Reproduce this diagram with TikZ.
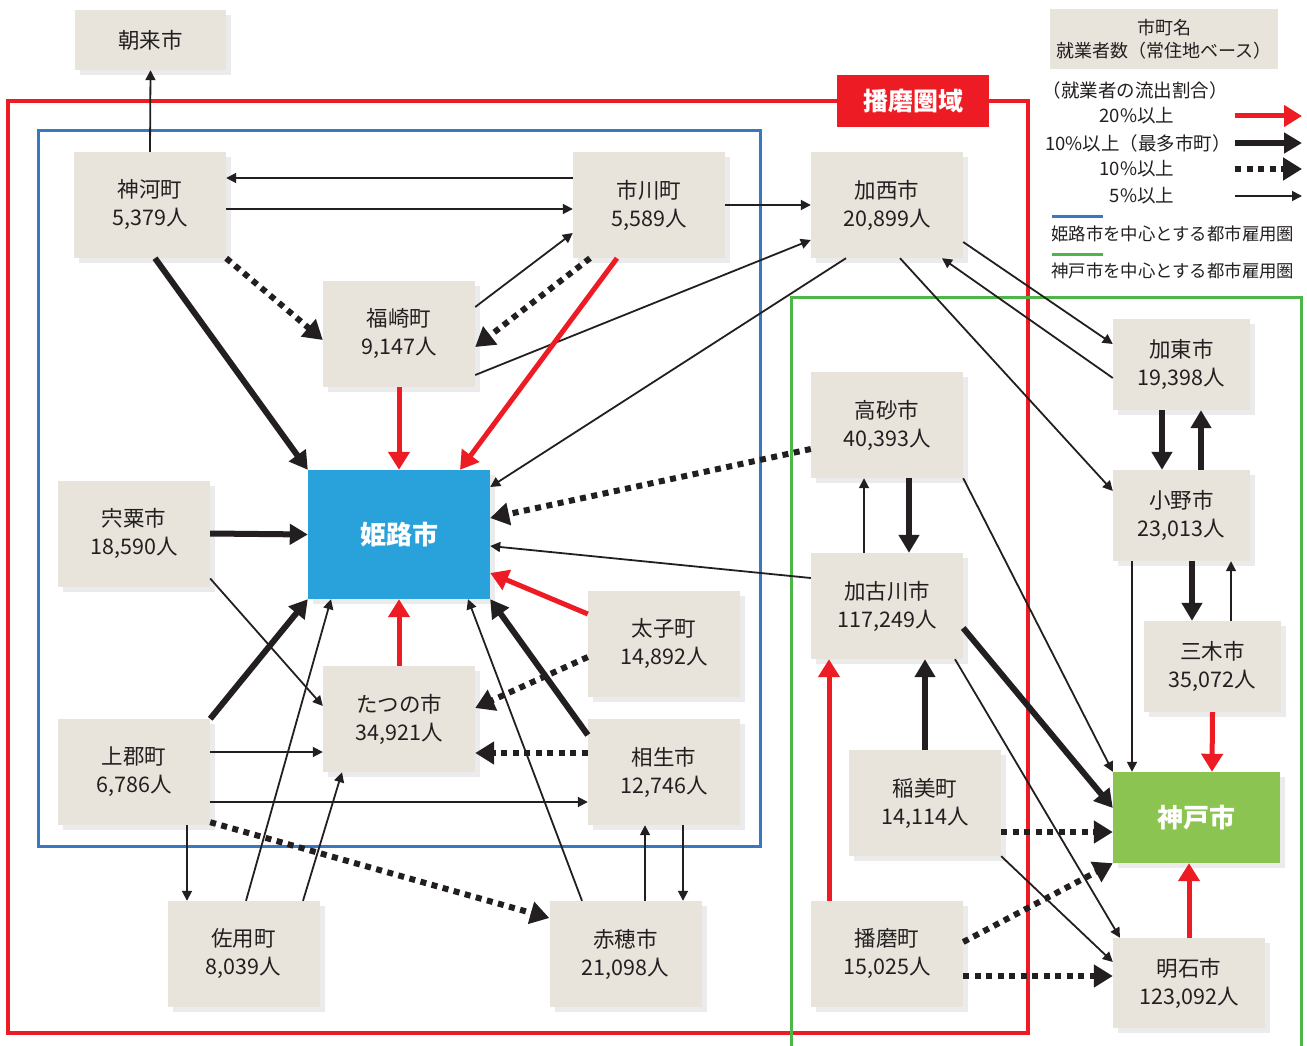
\documentclass[tikz,border=0pt]{standalone}
\usepackage{fontspec}
\setmainfont{Noto Sans CJK JP}
\usetikzlibrary{arrows.meta, shadows}
\definecolor{boxgray}{RGB}{232, 228, 219}
\definecolor{himeblue}{RGB}{41, 161, 219}
\definecolor{kobegreen}{RGB}{139, 196, 80}
\definecolor{flowred}{RGB}{237, 28, 36}
\definecolor{ink}{RGB}{35, 31, 32}
\definecolor{zoneblue}{RGB}{55, 120, 193}
\definecolor{zonegreen}{RGB}{77, 182, 72}

\begin{document}
\begin{tikzpicture}[x=1pt, y=-1pt,
  box/.style={fill=boxgray, text=ink, align=center, inner sep=0pt,
    minimum width=152pt, minimum height=106pt,
    font=\fontsize{21.5}{28}\selectfont,
    drop shadow={shadow xshift=5pt, shadow yshift=-5pt, opacity=0.16}},
  sbox/.style={box, minimum width=137pt, minimum height=91pt},
  hub/.style={box, text=white, font=\bfseries\fontsize{26}{30}\selectfont},
  legendtxt/.style={text=ink, inner sep=0pt, font=\fontsize{18.5}{23}\selectfont},
  fivepct/.style={ink, line width=1.8pt, -{Triangle[length=10pt, width=10pt]}},
  tenpct/.style={ink, line width=6pt, dash pattern=on 6pt off 5.5pt,
    -{Triangle[length=19pt, width=22pt]}},
  tenmax/.style={ink, line width=6pt, -{Triangle[length=18pt, width=20pt]}},
  twentypct/.style={flowred, line width=5pt, -{Triangle[length=18pt, width=21pt]}}]

  \useasboundingbox (0, 0) rectangle (1307, 1046);

  % areas
  \draw[flowred, line width=4pt] (8, 101) rectangle (1028, 1033);
  \draw[zoneblue, line width=3pt] (38, 131) rectangle (760, 846);
  \draw[zonegreen, line width=3pt] (791, 297) rectangle (1301, 1060);

  \node[fill=flowred, text=white, inner sep=0pt, minimum width=152pt,
    minimum height=52pt, font=\bfseries\fontsize{25}{25}\selectfont]
    (harimaarea) at (913, 101) {播磨圏域};

  % cities and towns
  \node[box, minimum width=151pt, minimum height=60pt] (asago) at (150.5, 40) {朝来市};
  \node[box] (kamikawa) at (150, 205) {神河町\\5,379人};
  \node[box] (ichikawa) at (649, 205) {市川町\\5,589人};
  \node[box] (kasai) at (887, 205) {加西市\\20,899人};
  \node[box] (fukusaki) at (399, 334) {福崎町\\9,147人};
  \node[hub, fill=himeblue, minimum width=182pt, minimum height=129pt] (himeji) at (399, 534.5) {姫路市};
  \node[box] (shiso) at (134, 533.5) {宍粟市\\18,590人};
  \node[sbox] (kato) at (1181.5, 364.5) {加東市\\19,398人};
  \node[box] (takasago) at (887, 425) {高砂市\\40,393人};
  \node[sbox] (ono) at (1181.5, 515.5) {小野市\\23,013人};
  \node[box] (kakogawa) at (887, 606) {加古川市\\117,249人};
  \node[sbox] (miki) at (1212.5, 666.5) {三木市\\35,072人};
  \node[hub, fill=kobegreen, minimum width=167pt, minimum height=91pt] (kobe) at (1196.5, 817.5) {神戸市};
  \node[box] (inami) at (925, 803) {稲美町\\14,114人};
  \node[box] (harima) at (887, 954) {播磨町\\15,025人};
  \node[box, minimum height=90pt] (akashi) at (1189, 983) {明石市\\123,092人};
  \node[box] (taishi) at (664, 644) {太子町\\14,892人};
  \node[box] (aioi) at (664, 772) {相生市\\12,746人};
  \node[box] (tatsuno) at (399, 719) {たつの市\\34,921人};
  \node[box] (kamigori) at (134, 772) {上郡町\\6,786人};
  \node[box] (sayo) at (243.5, 954) {佐用町\\8,039人};
  \node[box] (ako) at (625.5, 954) {赤穂市\\21,098人};

  % 5% or more
  \draw[fivepct] (kamikawa.north) -- (asago.south);
  \draw[fivepct] ([yshift=27pt]ichikawa.west) -- ([yshift=27pt]kamikawa.east);
  \draw[fivepct] ([yshift=-4pt]kamikawa.east) -- ([yshift=-4pt]ichikawa.west);
  \draw[fivepct] ([yshift=27pt]fukusaki.east) -- ([yshift=-28pt]ichikawa.west);
  \draw[fivepct] (ichikawa.east) -- (kasai.west);
  \draw[fivepct] ([yshift=-41pt]fukusaki.east) -- ([yshift=-35pt]kasai.west);
  \draw[fivepct] ([xshift=-41pt]kasai.south) -- ([yshift=47.5pt]himeji.east);
  \draw[fivepct] ([yshift=28pt]kakogawa.west) -- ([yshift=-11.5pt]himeji.east);
  \draw[fivepct] ([yshift=-45pt]shiso.east) -- ([yshift=13pt]tatsuno.west);
  \draw[fivepct] ([yshift=20pt]kamigori.east) -- ([yshift=-33pt]tatsuno.west);
  \draw[fivepct] ([yshift=-30pt]kamigori.east) -- ([yshift=-30pt]aioi.west);
  \draw[fivepct] ([xshift=53pt]kamigori.south) -- ([xshift=-56.5pt]sayo.north);
  \draw[fivepct] ([xshift=2.5pt]sayo.north) -- ([xshift=-68pt]himeji.south);
  \draw[fivepct] ([xshift=59.5pt]sayo.north) -- ([xshift=-57pt]tatsuno.south);
  \draw[fivepct] ([xshift=-43.5pt]ako.north) -- ([xshift=69pt]himeji.south);
  \draw[fivepct] ([xshift=19.5pt]ako.north) -- ([xshift=-19pt]aioi.south);
  \draw[fivepct] ([xshift=19pt]aioi.south) -- ([xshift=57.5pt]ako.north);
  \draw[fivepct] ([yshift=-37pt]kasai.east) -- ([yshift=20.5pt]kato.west);
  \draw[fivepct] ([yshift=-13.5pt]kato.west) -- ([xshift=55pt]kasai.south);
  \draw[fivepct] ([xshift=13pt]kasai.south) -- ([yshift=24.5pt]ono.west);
  \draw[fivepct] ([xshift=18.5pt]miki.north) -- ([xshift=49.5pt]ono.south);
  \draw[fivepct] ([xshift=-49.5pt]ono.south) -- ([xshift=-64.5pt]kobe.north);
  \draw[fivepct] ([xshift=-23pt]kakogawa.north) -- ([xshift=-23pt]takasago.south);
  \draw[fivepct] (takasago.south east) -- (kobe.north west);
  \draw[fivepct] ([xshift=68pt]kakogawa.south) -- ([xshift=-69pt]akashi.north);
  \draw[fivepct] (inami.south east) -- ([yshift=21pt]akashi.west);

  % 10% or more, largest destination
  \draw[tenmax] ([xshift=5pt]kamikawa.south) -- (himeji.north west);
  \draw[tenmax] (shiso.east) -- (himeji.west);
  \draw[tenmax] ([yshift=37pt]aioi.west) -- (himeji.south east);
  \draw[tenmax] (kamigori.north east) -- (himeji.south west);
  \draw[tenmax] ([xshift=-19.5pt]kato.south) -- ([xshift=-19.5pt]ono.north);
  \draw[tenmax] ([xshift=19.5pt]ono.north) -- ([xshift=19.5pt]kato.south);
  \draw[tenmax] ([xshift=10.5pt]ono.south) -- ([xshift=-20.5pt]miki.north);
  \draw[tenmax] ([xshift=22pt]takasago.south) -- ([xshift=22pt]kakogawa.north);
  \draw[tenmax] ([yshift=-22pt]kakogawa.east) -- ([yshift=9.5pt]kobe.west);
  \draw[tenmax] (inami.north) -- ([xshift=38pt]kakogawa.south);

  % 10% or more
  \draw[tenpct] (kamikawa.south east) -- ([yshift=-6pt]fukusaki.west);
  \draw[tenpct] ([xshift=-59pt]ichikawa.south) -- ([yshift=-13pt]fukusaki.east);
  \draw[tenpct] ([yshift=-24pt]takasago.west) -- ([yshift=16.5pt]himeji.east);
  \draw[tenpct] ([yshift=-13pt]taishi.west) -- ([yshift=11pt]tatsuno.east);
  \draw[tenpct] ([yshift=19pt]aioi.west) -- ([yshift=-34pt]tatsuno.east);
  \draw[tenpct] ([yshift=3pt]kamigori.south east) -- ([yshift=36pt]ako.west);
  \draw[tenpct] ([yshift=-29pt]inami.east) -- ([yshift=-14.5pt]kobe.west);
  \draw[tenpct] ([yshift=12pt]harima.east) -- (kobe.south west);
  \draw[tenpct] ([yshift=-22pt]harima.east) -- ([yshift=7pt]akashi.west);

  % 20% or more
  \draw[twentypct] ([xshift=-32pt]ichikawa.south) -- ([xshift=61pt]himeji.north);
  \draw[twentypct] (fukusaki.south) -- (himeji.north);
  \draw[twentypct] ([yshift=30pt]taishi.west) -- ([yshift=-38.5pt]himeji.east);
  \draw[twentypct] (tatsuno.north) -- (himeji.south);
  \draw[twentypct] (miki.south) -- ([xshift=15.5pt]kobe.north);
  \draw[twentypct] ([xshift=-58pt]harima.north) -- ([xshift=-58pt]kakogawa.south);
  \draw[twentypct] (akashi.north) -- ([xshift=-7.5pt]kobe.south);

  % legend
  \node[fill=boxgray, text=ink, align=center, inner sep=0pt, minimum width=228pt,
    minimum height=60pt, font=\fontsize{18}{23}\selectfont]
    (legendbox) at (1164, 39) {市町名\\就業者数（常住地ベース）};
  \node[legendtxt] (lgtitle) at (1135, 90) {（就業者の流出割合）};
  \node[legendtxt] (lgtwenty) at (1137, 116) {20\%以上};
  \node[legendtxt] (lgtenmax) at (1138, 143) {10\%以上（最多市町）};
  \node[legendtxt] (lgten) at (1137, 169) {10\%以上};
  \node[legendtxt] (lgfive) at (1142, 196) {5\%以上};
  \foreach \y/\s [count=\i] in {116/twentypct, 143/tenmax, 169/tenpct, 196/fivepct} {
    \coordinate (lgs\i) at (1235, \y);
    \coordinate (lge\i) at (1302, \y);
    \draw[\s] (lgs\i) -- (lge\i);
  }
  \coordinate (lgbs) at (1052, 216);
  \coordinate (lgbe) at (1103, 216);
  \draw[zoneblue, line width=3pt] (lgbs) -- (lgbe);
  \node[legendtxt, anchor=west, font=\fontsize{17.4}{23}\selectfont] (lghimeji) at (1051, 234) {姫路市を中心とする都市雇用圏};
  \coordinate (lggs) at (1052, 254);
  \coordinate (lgge) at (1103, 254);
  \draw[zonegreen, line width=3pt] (lggs) -- (lgge);
  \node[legendtxt, anchor=west, font=\fontsize{17.4}{23}\selectfont] (lgkobe) at (1051, 271) {神戸市を中心とする都市雇用圏};

\end{tikzpicture}
\end{document}
